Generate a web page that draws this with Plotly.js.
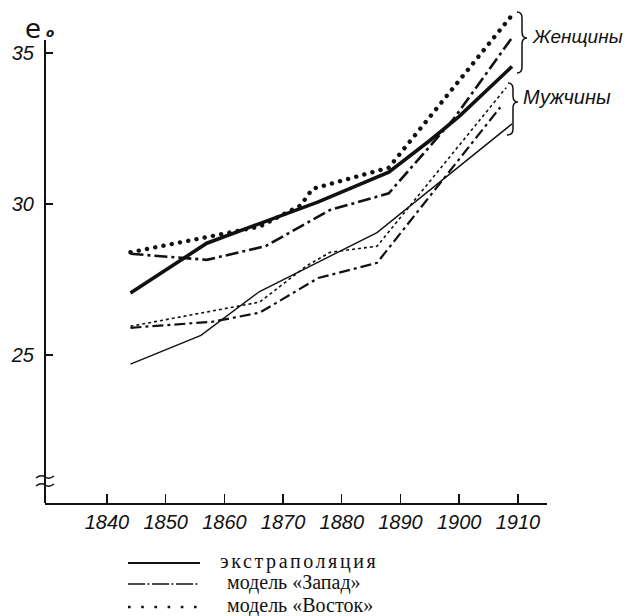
<!DOCTYPE html>
<html><head><meta charset="utf-8">
<script src="https://cdn.plot.ly/plotly-3.0.1.min.js"></script>
<style>
html,body{margin:0;padding:0;background:#fff}
#chart .scatterlayer .trace:nth-of-type(3) path.js-line{stroke-linecap:round}
</style>
</head><body><div id="chart" style="width:627px;height:616px"></div>
<script>
// ---- data ----
const seriesNames = ['экстраполяция', 'модель «Запад»', 'модель «Восток»'];
const groupLabels = ['Женщины', 'Мужчины'];
const xTickVals = [1840, 1850, 1860, 1870, 1880, 1890, 1900, 1910];
const yTickVals = [25, 30, 35];

const womenExtrapYears = [1844, 1857, 1866, 1876, 1888, 1895, 1900, 1905, 1909];
const womenExtrapVals  = [27.05, 28.7, 29.35, 30.07, 31.05, 32.1, 32.9, 33.8, 34.55];
const womenWestYears   = [1844, 1857, 1867, 1878, 1888, 1899, 1909];
const womenWestVals    = [28.35, 28.15, 28.6, 29.8, 30.35, 32.8, 35.5];
const womenEastYears   = [1844, 1857, 1866, 1873, 1875, 1888, 1909];
const womenEastVals    = [28.4, 28.9, 29.25, 29.95, 30.5, 31.2, 36.25];

const menExtrapYears = [1844, 1856, 1866, 1886, 1909];
const menExtrapVals  = [24.7, 25.65, 27.1, 29.05, 32.65];
const menWestYears   = [1844, 1858, 1866, 1876, 1886, 1907];
const menWestVals    = [25.9, 26.1, 26.4, 27.55, 28.05, 33.2];
const menEastYears   = [1844, 1861, 1866, 1874, 1878, 1886, 1908];
const menEastVals    = [25.95, 26.55, 26.75, 27.95, 28.4, 28.6, 33.85];

// ---- layout geometry (pixels) ----
const L = 45, R = 547, T = 10, B = 503;
const px = x => (x - L) / (R - L);
const py = y => (B - y) / (B - T);
const ink = '#111';

const styles = {
  wExt:  {width: 3.6},
  wWest: {width: 2.6, dash: '13px,4px,3px,4px'},
  wEast: {width: 4.4, dash: '0.1px,8.3px'},
  mExt:  {width: 1.4},
  mWest: {width: 2.2, dash: '11px,4px,3px,4px'},
  mEast: {width: 1.6, dash: '3px,3px'}
};

function tr(x, y, name, line) {
  return {type: 'scatter', mode: 'lines', x: x, y: y, name: name, showlegend: false,
    line: Object.assign({color: ink, shape: 'linear'}, line), hoverinfo: 'skip'};
}
const traces = [
  tr(womenExtrapYears, womenExtrapVals, seriesNames[0], styles.wExt),
  tr(womenWestYears, womenWestVals, seriesNames[1], styles.wWest),
  tr(womenEastYears, womenEastVals, seriesNames[2], styles.wEast),
  tr(menExtrapYears, menExtrapVals, seriesNames[0], styles.mExt),
  tr(menWestYears, menWestVals, seriesNames[1], styles.mWest),
  tr(menEastYears, menEastVals, seriesNames[2], styles.mEast)
];

function P(x, y) { return px(x).toFixed(5) + ',' + py(y).toFixed(5); }
const womenBrace = 'M' + P(517, 12) + ' Q' + P(522, 12) + ' ' + P(522, 18) + ' L' + P(522, 32) +
  ' Q' + P(522, 38) + ' ' + P(527, 38) + ' Q' + P(522, 38) + ' ' + P(522, 44) + ' L' + P(522, 67) +
  ' Q' + P(522, 73) + ' ' + P(517, 73);
const menBrace = 'M' + P(508, 83) + ' Q' + P(513, 83) + ' ' + P(513, 89) + ' L' + P(513, 96) +
  ' Q' + P(513, 102) + ' ' + P(518, 102) + ' Q' + P(513, 102) + ' ' + P(513, 108) + ' L' + P(513, 129) +
  ' Q' + P(513, 135) + ' ' + P(507, 135);
const brk1 = 'M' + P(36, 478) + ' Q' + P(41, 474) + ' ' + P(45, 477) + ' Q' + P(49, 480) + ' ' + P(54, 476);
const brk2 = 'M' + P(36, 486) + ' Q' + P(41, 482) + ' ' + P(45, 485) + ' Q' + P(49, 488) + ' ' + P(54, 484);

// custom legend (sample lines + labels)
const legRows = [563, 584, 607];
const legX0 = 128, legX1 = 200;
const legTextX = [218, 225, 225];
const legSpacing = [2.6, 0, 0];
const legStyles = [
  {width: 2.2},
  {width: 1.6, dash: '17px,2.5px,2px,2.5px'},
  {width: 2.6, dash: '2.6px,10.6px'}
];
const legendShapes = legRows.map((y, i) => ({type: 'line', xref: 'paper', yref: 'paper',
  x0: px(legX0), x1: px(legX1), y0: py(y), y1: py(y),
  line: Object.assign({color: ink}, legStyles[i])}));
const legendTexts = seriesNames.map((s, i) => ({xref: 'paper', yref: 'paper',
  x: px(legTextX[i]), y: py(legRows[i] - 2), xanchor: 'left', yanchor: 'middle', showarrow: false,
  text: legSpacing[i] ? '<span style="letter-spacing:' + legSpacing[i] + 'px">' + s + '</span>' : s,
  font: {family: 'Liberation Serif, Times New Roman, serif', size: 20, color: ink}}));

const tickFont = {family: 'Liberation Sans, Arial, sans-serif', size: 20, color: ink};
const layout = {
  width: 627, height: 616,
  margin: {l: L, r: 627 - R, t: T, b: 616 - B, pad: 0, autoexpand: false},
  paper_bgcolor: '#fff', plot_bgcolor: '#fff',
  showlegend: false,
  xaxis: {range: [1829.44, 1914.96], tickvals: xTickVals, ticktext: xTickVals.map(v => '<i>' + v + '</i>'),
    ticks: 'inside', ticklen: 9, tickwidth: 1.4, tickcolor: ink,
    showline: true, linewidth: 2, linecolor: ink, showgrid: false, zeroline: false,
    tickfont: tickFont, ticklabelstandoff: 0, fixedrange: true},
  yaxis: {range: [20.1, 36.42], tickvals: yTickVals, ticktext: yTickVals.map(v => '<i>' + v + '</i>'),
    ticks: 'inside', ticklen: 8, tickwidth: 1.4, tickcolor: ink,
    showline: false, showgrid: false, zeroline: false,
    tickfont: tickFont, ticklabelstandoff: 10, fixedrange: true},
  shapes: [
    {type: 'line', xref: 'paper', yref: 'y', x0: 0, x1: 0, y0: 20.1, y1: 35.43,
     line: {color: ink, width: 2}},
    {type: 'path', xref: 'paper', yref: 'paper', path: brk1, line: {color: ink, width: 1.5}},
    {type: 'path', xref: 'paper', yref: 'paper', path: brk2, line: {color: ink, width: 1.5}},
    {type: 'path', xref: 'paper', yref: 'paper', path: womenBrace, line: {color: ink, width: 1.5}},
    {type: 'path', xref: 'paper', yref: 'paper', path: menBrace, line: {color: ink, width: 1.5}}
  ].concat(legendShapes),
  annotations: [
    {xref: 'paper', yref: 'paper', x: px(530), y: py(36), xanchor: 'left', yanchor: 'middle',
     text: groupLabels[0], showarrow: false,
     font: {family: 'Liberation Sans, Arial, sans-serif', style: 'italic', size: 19, color: ink}},
    {xref: 'paper', yref: 'paper', x: px(521), y: py(97), xanchor: 'left', yanchor: 'middle',
     text: groupLabels[1], showarrow: false,
     font: {family: 'Liberation Sans, Arial, sans-serif', style: 'italic', size: 20, color: ink}},
    {xref: 'paper', yref: 'paper', x: px(23), y: py(29), xanchor: 'left', yanchor: 'middle',
     text: 'e', showarrow: false,
     font: {family: 'DejaVu Sans, sans-serif', size: 26, color: ink}},
    {xref: 'paper', yref: 'paper', x: px(44), y: py(33), xanchor: 'left', yanchor: 'middle',
     text: '<b><i>o</i></b>', showarrow: false,
     font: {family: 'DejaVu Sans, sans-serif', size: 12, color: ink}}
  ].concat(legendTexts)
};
Plotly.newPlot('chart', traces, layout, {staticPlot: true, displayModeBar: false});
</script></body></html>
